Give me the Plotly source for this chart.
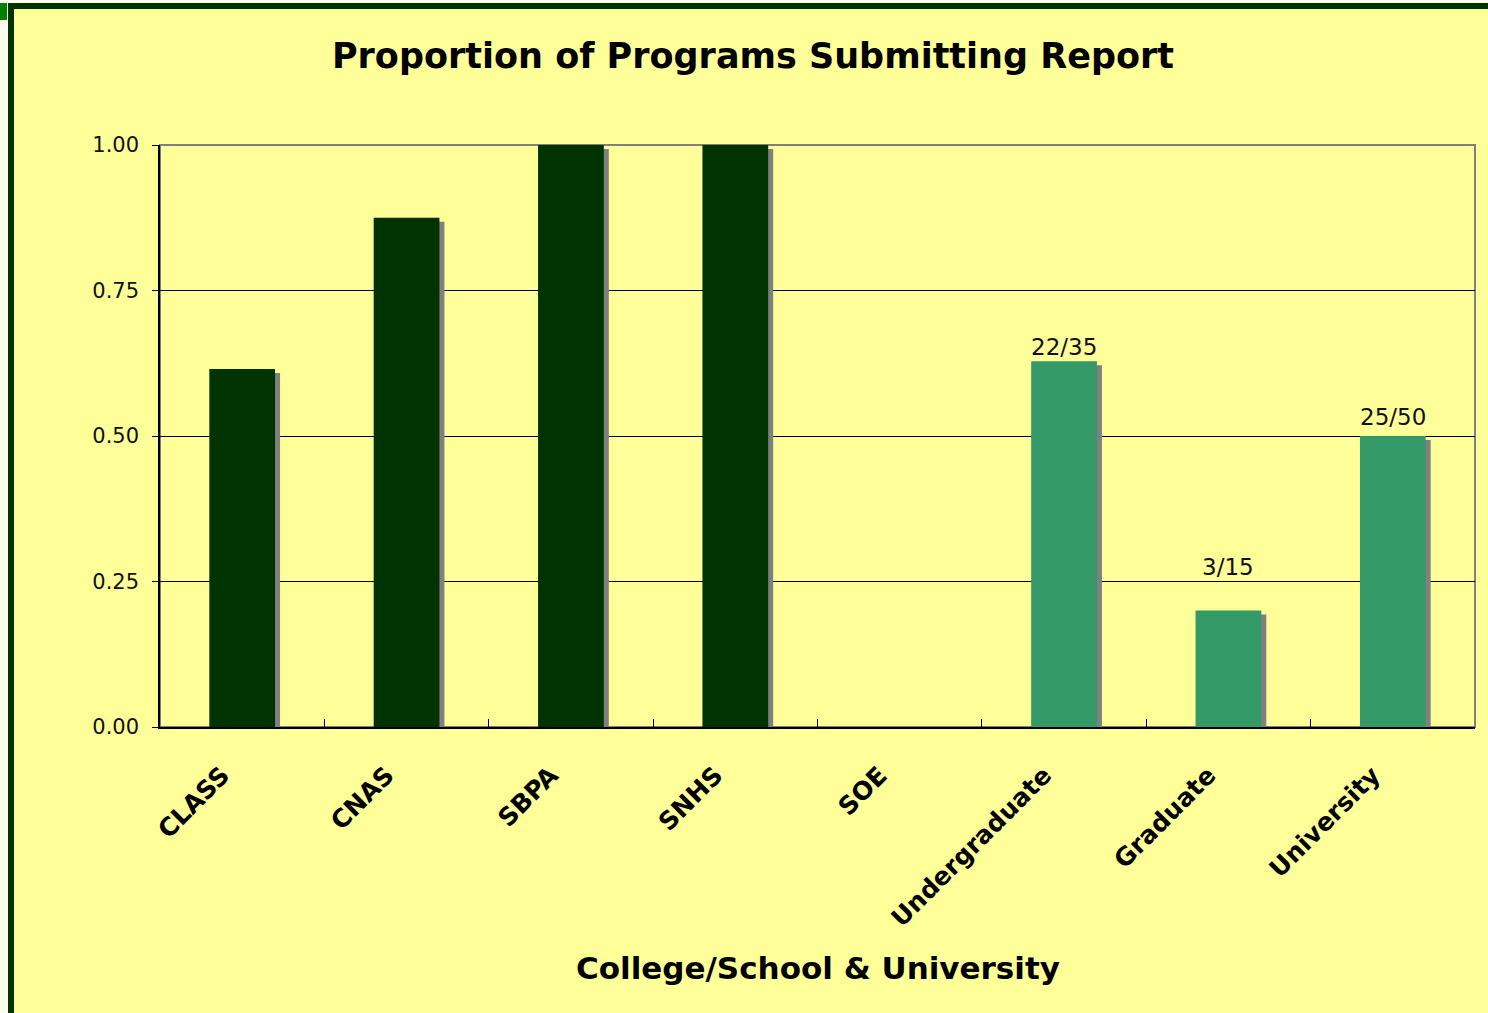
import plotly.graph_objects as go

categories = ["CLASS", "CNAS", "SBPA", "SNHS", "SOE", "Undergraduate", "Graduate", "University"]
proportions = [0.615, 0.875, 1.0, 1.0, 0.0, 22/35, 3/15, 25/50]
bar_labels = ["", "", "", "", "", "22/35", "3/15", "25/50"]
label_lift = [0, 0, 0, 0, 0, 14, 44, 19]  # pixel gap between label centre and bar top
bar_colors = ["#003300"] * 5 + ["#339966"] * 3
y_ticks = [0.0, 0.25, 0.5, 0.75, 1.0]

W, H = 1488, 1013
L, R, T, B = 160, 13, 145, 286
PW, PH = W - L - R, H - T - B
FONT = "DejaVu Sans, Verdana, sans-serif"

def px(x):
    return (x - L) / PW

def py(y):
    return (H - B - y) / PH

# shadow bars: shifted a few pixels right and down
shadow_dx = 5 / (PW / len(categories))
shadow_dy = 4 / PH
shadow_vals = [max(v - shadow_dy, 0) for v in proportions]

fig = go.Figure()
fig.add_trace(go.Bar(
    x=categories, y=shadow_vals, width=0.4, offset=-0.2 + shadow_dx,
    marker=dict(color="#808080", line=dict(width=0)), hoverinfo="skip", showlegend=False,
))
fig.add_trace(go.Bar(
    x=categories, y=proportions, width=0.4, offset=-0.2,
    marker=dict(color=bar_colors, line=dict(width=0)),
    showlegend=False,
))

shapes = [
    dict(type="rect", xref="paper", yref="paper", x0=px(0), x1=px(8), y0=py(H), y1=py(0),
         fillcolor="#FFFFF0", line=dict(width=0), layer="below"),
    dict(type="rect", xref="paper", yref="paper", x0=px(0), x1=px(W), y0=py(3), y1=py(0),
         fillcolor="#FFFFF0", line=dict(width=0), layer="below"),
    dict(type="rect", xref="paper", yref="paper", x0=px(0), x1=px(7), y0=py(20), y1=py(3),
         fillcolor="#008000", line=dict(width=0), layer="below"),
    dict(type="rect", xref="paper", yref="paper", x0=px(8), x1=px(14), y0=py(H), y1=py(3),
         fillcolor="#003300", line=dict(width=0), layer="below"),
    dict(type="rect", xref="paper", yref="paper", x0=px(8), x1=px(W), y0=py(9), y1=py(3),
         fillcolor="#003300", line=dict(width=0), layer="below"),
    dict(type="rect", xref="paper", yref="paper", x0=0, x1=1, y0=0, y1=1,
         line=dict(color="#808080", width=2), layer="below"),
]

annotations = [
    dict(text="<b>College/School &amp; University</b>", xref="paper", yref="paper",
         x=0.5, y=py(968), xanchor="center", yanchor="middle", showarrow=False,
         font=dict(family=FONT, size=31, color="#000000")),
]
for cat, val, lab, lift in zip(categories, proportions, bar_labels, label_lift):
    if lab:
        annotations.append(dict(
            text=lab, x=cat, y=val, xref="x", yref="y", xanchor="center", yanchor="middle",
            yshift=lift, showarrow=False, font=dict(family=FONT, size=23, color="#111111"),
        ))

fig.update_layout(
    width=W, height=H,
    margin=dict(l=L, r=R, t=T, b=B, autoexpand=False),
    paper_bgcolor="#FFFF99", plot_bgcolor="#FFFF99",
    barmode="overlay",
    font=dict(family=FONT, color="#000000"),
    title=dict(text="<b>Proportion of Programs Submitting Report</b>",
               font=dict(family=FONT, size=35, color="#000000"),
               x=753 / W, xanchor="center", y=1 - 56 / H, yanchor="middle", xref="container", yref="container"),
    shapes=shapes,
    annotations=annotations,
    xaxis=dict(
        type="category", categoryorder="array", categoryarray=categories,
        showline=True, linecolor="#000000", linewidth=1.5,
        ticks="inside", tickson="boundaries", ticklen=8, tickcolor="#000000",
        tickangle=-45, tickfont=dict(family=FONT, size=25, color="#000000", weight="bold"),
        ticklabelstandoff=22, ticklabelshift=-20,
        showgrid=False,
    ),
    yaxis=dict(
        range=[0, 1.0], tickvals=y_ticks, tickformat=".2f",
        showline=True, linecolor="#000000", linewidth=1.5,
        ticks="outside", ticklen=6, tickcolor="#000000",
        tickfont=dict(family=FONT, size=21, color="#111111"),
        ticklabelstandoff=9,
        showgrid=True, gridcolor="#000000", gridwidth=1,
        zeroline=False,
    ),
)

fig.write_html("out.html", config={"displayModeBar": False},
               post_script="document.body.style.margin='0';document.body.style.padding='0';")
